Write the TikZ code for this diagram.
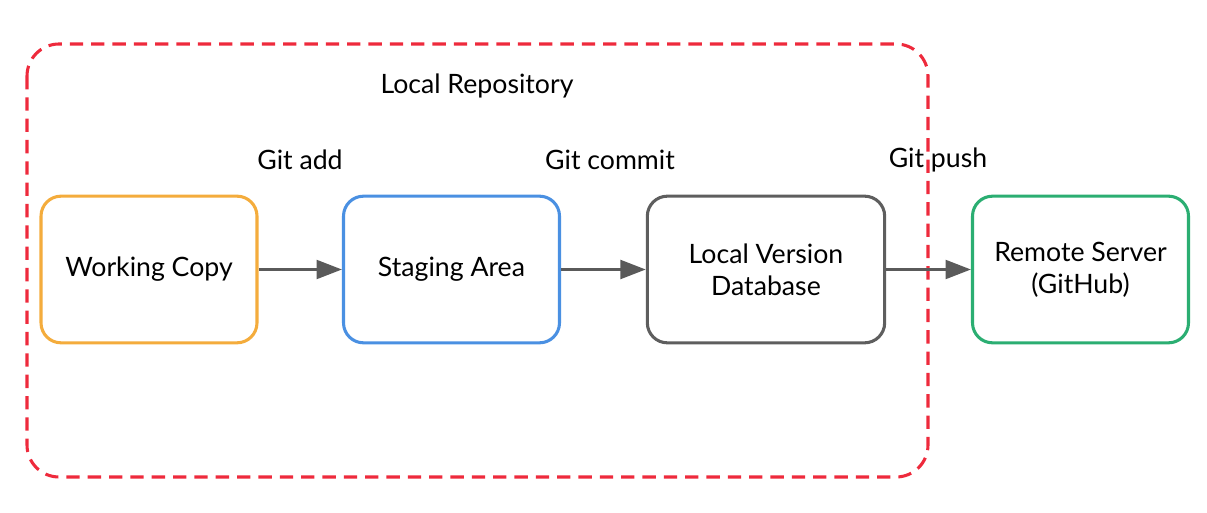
\documentclass[tikz,border=0pt]{standalone}
\usepackage{fontspec}
\setmainfont{Lato}
\usetikzlibrary{arrows.meta}
\definecolor{cOrange}{HTML}{F4AC3C}
\definecolor{cBlue}{HTML}{4A90E2}
\definecolor{cGray}{HTML}{5E5E5E}
\definecolor{cGreen}{HTML}{2BAE72}
\definecolor{cRed}{HTML}{EE2A3C}
\definecolor{cArrow}{HTML}{5A5A5A}
\tikzset{
  box/.style={draw=#1, line width=2.3pt, rounded corners=15pt, fill=white,
    minimum width=162pt, minimum height=110pt, align=center, font=\fontsize{20}{24}\selectfont, inner sep=0pt},
  lbl/.style={font=\fontsize{20}{24}\selectfont, inner sep=0pt},
  flow/.style={draw=cArrow, line width=2.3pt, -{Triangle[length=19pt,width=14pt]}},
  region/.style={draw=cRed, line width=2.3pt, dash pattern=on 10pt off 6pt, rounded corners=24pt}
}
\begin{document}
\begin{tikzpicture}[x=0.75pt,y=-0.75pt]
\useasboundingbox (0,0) rectangle (1207,513);
\draw[region] (27,44) rectangle (928,477);
\node[box=cOrange] (wc) at (149,269.5) {Working Copy};
\node[box=cBlue] (sa) at (451.5,269.5) {Staging Area};
\node[box=cGray, minimum width=178pt] (lv) at (766,269.5) {Local Version\\Database};
\node[box=cGreen] (rs) at (1080.5,269.5) {Remote Server\\(GitHub)};
\node[lbl] (lr) at (477,86) {Local Repository};
\node[lbl] (ga) at (300,160) {Git add};
\node[lbl] (gc) at (610,160) {Git commit};
\node[lbl] (gp) at (938,160) {Git push};
\draw[flow] (wc) -- (sa);
\draw[flow] (sa) -- (lv);
\draw[flow] (lv) -- (rs);
\end{tikzpicture}
\end{document}
